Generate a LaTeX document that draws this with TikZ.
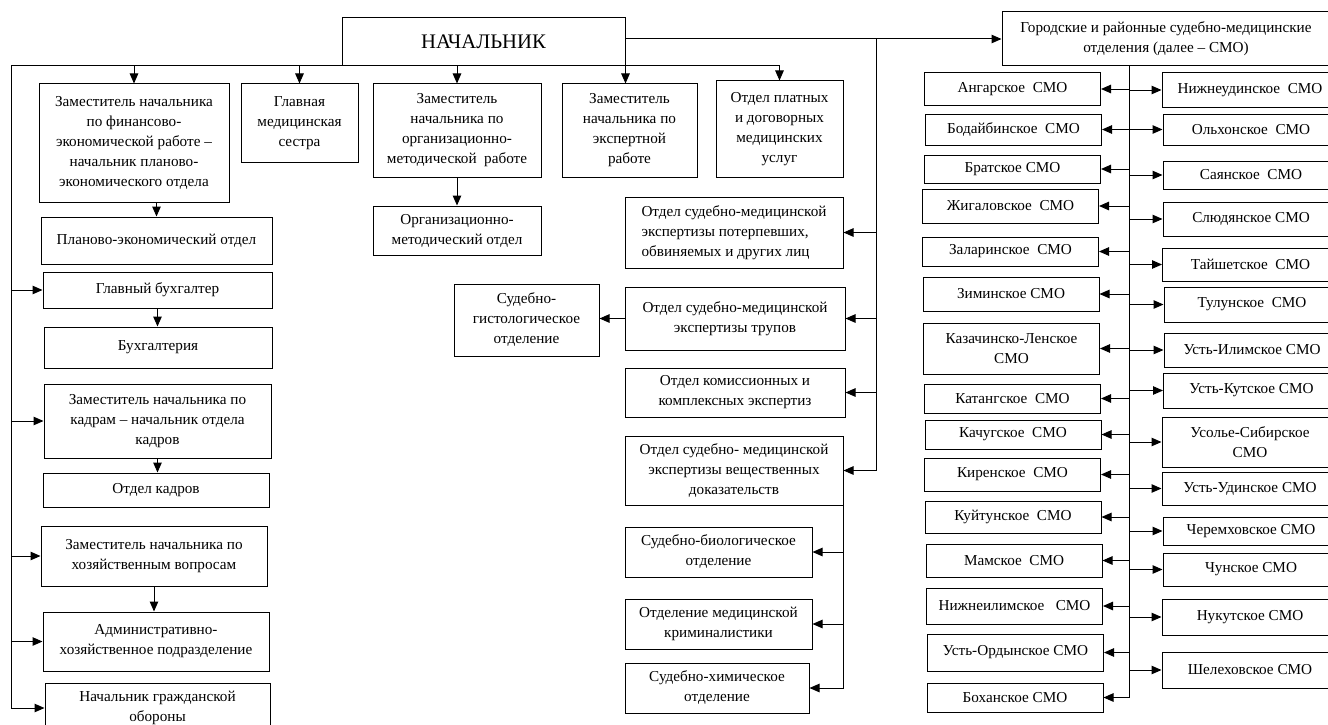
\documentclass[tikz,border=0pt]{standalone}
\usepackage{fontspec}
\setmainfont{Liberation Serif}
\usetikzlibrary{arrows.meta, positioning, calc}

\begin{document}
\begin{tikzpicture}[
  x=1pt, y=-1pt,
  unit/.style={rectangle, draw, line width=1pt, inner sep=1pt, align=center,
               font=\fontsize{15.2}{20}\selectfont},
  smo/.style={unit, minimum width=176},
  arr/.style={-{Triangle[length=10pt,width=8.5pt]}, line width=1pt},
  bus/.style={line width=1pt}
]
  \useasboundingbox (0,0) rectangle (1328,725);

  % head and deputies
  \node[unit, minimum width=283, minimum height=48, font=\fontsize{20.7}{24}\selectfont] (boss) at (483.5,42) {НАЧАЛЬНИК};
  \node[unit, minimum width=190, minimum height=118] (zfin) at (134,143) {Заместитель начальника\\по финансово-\\экономической работе –\\начальник планово-\\экономического отдела};
  \node[unit, minimum width=117, minimum height=78] (sestra) at (299.5,123) {Главная\\медицинская\\сестра};
  \node[unit, minimum width=168, minimum height=93] (zorg) at (457,130.5) {Заместитель\\начальника по\\организационно-\\методической\ \ работе};
  \node[unit, minimum width=135, minimum height=93] (zexp) at (629.5,130.5) {Заместитель\\начальника по\\экспертной\\работе};
  \node[unit, minimum width=127, minimum height=96] (platn) at (779.5,129) {Отдел платных\\и договорных\\медицинских\\услуг};

  % left column
  \node[unit, minimum width=231, minimum height=47] (plan) at (156.5,240.5) {Планово-экономический отдел};
  \node[unit, minimum width=229, minimum height=36] (glbuh) at (157.5,290) {Главный бухгалтер};
  \node[unit, minimum width=228, minimum height=41] (buh) at (158,347.5) {Бухгалтерия};
  \node[unit, minimum width=227, minimum height=74] (zkadr) at (157.5,421) {Заместитель начальника по\\кадрам – начальник отдела\\кадров};
  \node[unit, minimum width=226, minimum height=34] (okadr) at (156,490) {Отдел кадров};
  \node[unit, minimum width=226, minimum height=60] (zhoz) at (154,556) {Заместитель начальника по\\хозяйственным вопросам};
  \node[unit, minimum width=226, minimum height=59] (adm) at (156,641.5) {Административно-\\хозяйственное подразделение};
  \node[unit, minimum width=225, minimum height=50] (grob) at (157.5,708) {Начальник гражданской\\обороны};
  \node[unit, minimum width=168, minimum height=49] (orgotd) at (457,230.5) {Организационно-\\методический отдел};

  % expert departments
  \node[unit, minimum width=218, minimum height=71, align=left] (poter) at (734,232.5) {Отдел судебно-медицинской\\экспертизы потерпевших,\\обвиняемых и других лиц};
  \node[unit, minimum width=220, minimum height=63] (trup) at (735,318.5) {Отдел судебно-медицинской\\экспертизы трупов};
  \node[unit, minimum width=145, minimum height=72] (gist) at (526.5,320) {Судебно-\\гистологическое\\отделение};
  \node[unit, minimum width=220, minimum height=49] (komis) at (735,392.5) {Отдел комиссионных и\\комплексных экспертиз};
  \node[unit, minimum width=218, minimum height=69] (vesh) at (734,470.5) {Отдел судебно- медицинской\\экспертизы вещественных\\доказательств};
  \node[unit, minimum width=187, minimum height=50] (biol) at (718.5,552) {Судебно-биологическое\\отделение};
  \node[unit, minimum width=187, minimum height=50] (krim) at (718.5,624) {Отделение медицинской\\криминалистики};
  \node[unit, minimum width=184, minimum height=50] (him) at (717,688) {Судебно-химическое\\отделение};

  % district offices
  \node[unit, minimum width=328, minimum height=54] (gor) at (1166,39) {Городские и районные судебно-медицинские\\отделения (далее – СМО)};
  \node[smo, minimum height=32] (ang) at (1012.5,89) {Ангарское\ \ СМО};
  \node[smo, minimum height=31] (bod) at (1013.5,129.5) {Бодайбинское\ \ СМО};
  \node[smo, minimum height=28] (brat) at (1012.5,169) {Братское СМО};
  \node[smo, minimum height=34] (zhig) at (1010.5,206) {Жигаловское\ \ СМО};
  \node[smo, minimum height=29] (zal) at (1010.5,251.5) {Заларинское\ \ СМО};
  \node[smo, minimum height=34] (zim) at (1011,294) {Зиминское СМО};
  \node[smo, minimum height=51] (kaz) at (1011.5,348.5) {Казачинско-Ленское\\СМО};
  \node[smo, minimum height=29] (kat) at (1012.5,398.5) {Катангское\ \ СМО};
  \node[smo, minimum height=29] (kach) at (1013,434.5) {Качугское\ \ СМО};
  \node[smo, minimum height=33] (kir) at (1012.5,474.5) {Киренское\ \ СМО};
  \node[smo, minimum height=32] (kuit) at (1013,517) {Куйтунское\ \ СМО};
  \node[smo, minimum height=33] (mam) at (1014,560.5) {Мамское\ \ СМО};
  \node[smo, minimum height=36] (nil) at (1014.5,606) {Нижнеилимское\ \ \ СМО};
  \node[smo, minimum height=37] (uord) at (1015.5,652.5) {Усть-Ордынское СМО};
  \node[smo, minimum height=29] (boh) at (1015,697.5) {Боханское СМО};

  \node[smo, minimum height=34] (nud) at (1250,90) {Нижнеудинское\ \ СМО};
  \node[smo, minimum height=31] (olh) at (1251,129.5) {Ольхонское\ \ СМО};
  \node[smo, minimum height=28] (say) at (1251,175) {Саянское\ \ СМО};
  \node[smo, minimum height=34] (slud) at (1251,219) {Слюдянское СМО};
  \node[smo, minimum height=33] (tai) at (1250.5,264.5) {Тайшетское\ \ СМО};
  \node[smo, minimum height=35] (tul) at (1252,304.5) {Тулунское\ \ СМО};
  \node[smo, minimum height=34] (uil) at (1252,350) {Усть-Илимское СМО};
  \node[smo, minimum height=35] (ukut) at (1251.5,390.5) {Усть-Кутское СМО};
  \node[smo, minimum height=50] (usol) at (1250,442) {Усолье-Сибирское\\СМО};
  \node[smo, minimum height=33] (uud) at (1250,488.5) {Усть-Удинское СМО};
  \node[smo, minimum height=28] (cher) at (1251,531) {Черемховское СМО};
  \node[smo, minimum height=33] (chun) at (1251,569.5) {Чунское СМО};
  \node[smo, minimum height=36] (nuk) at (1250,617) {Нукутское СМО};
  \node[smo, minimum height=36] (shel) at (1250,670) {Шелеховское СМО};

  % connectors
  \coordinate (busL) at (11,66);
  \coordinate (busB) at (busL |- grob.west);
  \draw[bus] (busL) -- (platn.north |- busL);
  \draw[bus] (busL) -- (busB);
  \foreach \n in {zfin, sestra, zorg, platn}
    \draw[arr] (\n.north |- busL) -- (\n.north);
  \draw[arr] (boss.south east) -- (boss.south east |- zexp.north);
  \foreach \n in {glbuh, zkadr, zhoz, adm}
    \draw[arr] (\n.west -| busL) -- (\n.west);
  \draw[arr] (busB) -- (grob.west);

  \draw[arr] (plan.north |- zfin.south) -- (plan.north);
  \draw[arr] (glbuh.south) -- (glbuh.south |- buh.north);
  \draw[arr] (zkadr.south) -- (zkadr.south |- okadr.north);
  \draw[arr] (zhoz.south) -- (zhoz.south |- adm.north);
  \draw[arr] (zorg.south) -- (orgotd.north);

  \coordinate (mtop) at (876,39);
  \draw[arr] (boss.east |- gor.west) -- (gor.west);
  \draw[bus] (mtop) -- (mtop |- vesh.east);
  \foreach \n in {poter, trup, komis, vesh}
    \draw[arr] (\n.east -| mtop) -- (\n.east);
  \draw[arr] (trup.west) -- (trup.west -| gist.east);
  \draw[bus] (vesh.south east) -- (vesh.south east |- him.east);
  \foreach \n in {biol, krim, him}
    \draw[arr] (\n.east -| vesh.south east) -- (\n.east);

  \coordinate (rtop) at (1129,66);
  \draw[bus] (rtop) -- (rtop |- boh.east);
  \foreach \n in {ang, bod, brat, zhig, zal, zim, kaz, kat, kach, kir, kuit, mam, nil, uord, boh}
    \draw[arr] (\n.east -| rtop) -- (\n.east);
  \foreach \n in {nud, olh, say, slud, tai, tul, uil, ukut, usol, uud, cher, chun, nuk, shel}
    \draw[arr] (\n.west -| rtop) -- (\n.west);
\end{tikzpicture}
\end{document}
